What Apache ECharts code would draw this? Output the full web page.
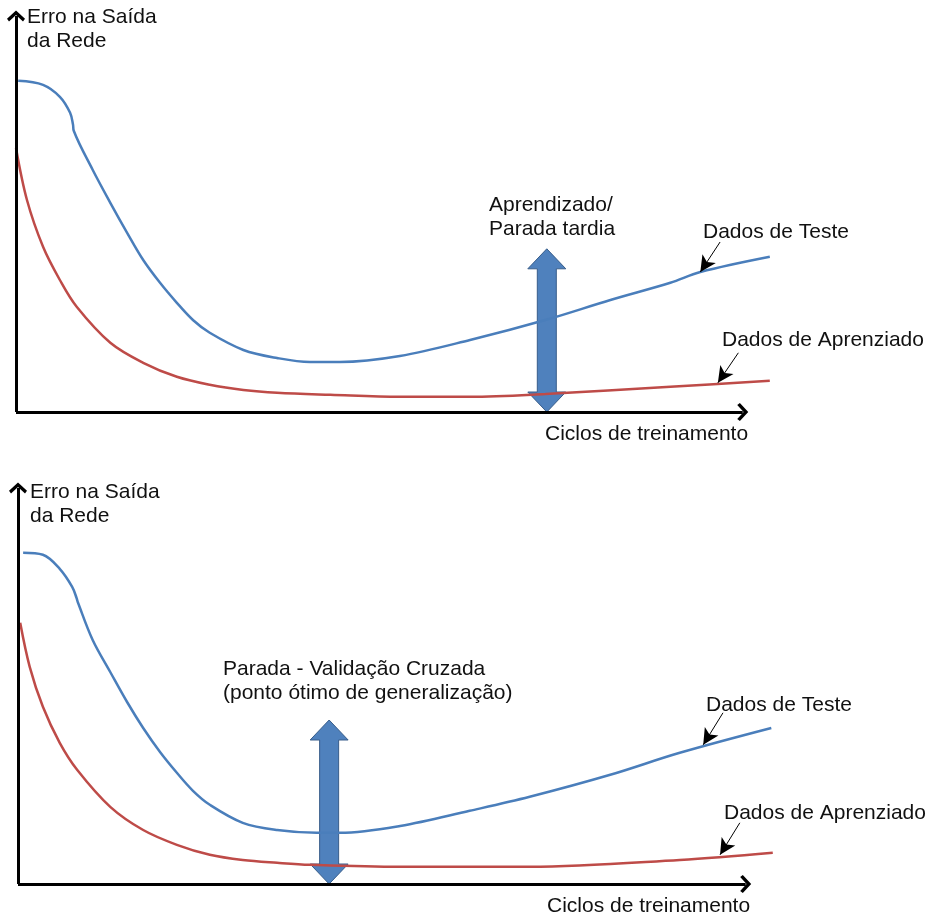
<!DOCTYPE html>
<html>
<head>
<meta charset="utf-8">
<script src="https://cdn.jsdelivr.net/npm/echarts@6/dist/echarts.min.js"></script>
<style>
  html, body { margin: 0; padding: 0; background: #fff; }
  #chart { width: 930px; height: 920px; }
</style>
</head>
<body>
<div id="chart"></div>
<script>
// curves: [ciclos, erro], both panels on a 0..100 scale
const topTest = [
  [0.3, 82.8], [3.7, 81.8], [6.0, 78.8], [7.4, 74.8], [7.8, 71.8], [7.9, 70.3],
  [10.5, 60.5], [12.9, 52.3], [15.2, 44.8], [17.4, 38.0], [19.7, 32.3], [22.0, 27.3],
  [24.2, 23.0], [26.5, 19.8], [31.1, 15.5], [35.7, 13.5], [40.2, 12.5], [44.3, 12.5],
  [52.5, 14.0], [62.1, 18.0], [72.4, 23.0], [81.3, 28.0], [89.5, 32.3], [93.6, 35.0],
  [103.1, 38.8]
];
const topTrain = [
  [0, 66.0], [1.5, 53.0], [3.7, 41.3], [6.0, 33.0], [8.3, 26.3], [12.9, 17.3],
  [17.4, 12.3], [22.0, 8.8], [26.5, 6.8], [31.1, 5.5], [35.7, 4.8], [43.0, 4.3],
  [52.5, 3.8], [62.1, 3.8], [72.4, 4.5], [89.5, 6.3], [103.1, 7.8]
];
const bottomTest = [
  [0.7, 82.8], [3.4, 82.3], [5.7, 78.8], [7.4, 74.3], [8.0, 71.5], [8.2, 70.3],
  [10.2, 61.0], [12.6, 53.0], [14.9, 45.5], [17.1, 39.0], [19.4, 33.0], [21.7, 27.8],
  [23.9, 23.3], [26.2, 19.8], [30.7, 15.3], [35.4, 13.5], [40.8, 12.8], [44.0, 12.8],
  [52.2, 14.5], [61.7, 18.3], [69.9, 21.8], [80.9, 27.3], [90.4, 32.8], [102.9, 39.0]
];
const bottomTrain = [
  [0.3, 65.3], [1.6, 54.3], [3.4, 44.3], [5.7, 35.3], [8.1, 28.5], [12.6, 19.3],
  [17.1, 13.5], [21.7, 9.8], [26.2, 7.3], [30.7, 6.0], [35.4, 5.3], [39.9, 4.8],
  [52.2, 4.3], [69.9, 4.3], [90.4, 6.0], [103.1, 7.8]
];
// stop markers: [ciclo, erro base, erro topo]
const topStop = [72.6, 0, 40.8];
const bottomStop = [42.5, 0, 41.0];
// pointer arrows: [from, to]
const topTestPointer = [[96.3, 42.5], [93.6, 35.0]];
const topTrainPointer = [[98.8, 14.8], [96.0, 7.3]];
const bottomTestPointer = [[96.3, 42.8], [93.6, 34.8]];
const bottomTrainPointer = [[98.6, 15.3], [95.9, 7.3]];
const axisEnd = 99.4;
const axisTop = 99;

const yTitle = "Erro na Saída\nda Rede";
const xTitle = "Ciclos de treinamento";
const testName = "Dados de Teste";
const trainName = "Dados de Aprenziado";
const topNote = "Aprendizado/\nParada tardia";
const bottomNote = "Parada - Validação Cruzada\n(ponto ótimo de generalização)";

const BLUE = "#4A7EBB", RED = "#BE4B48";
const FONT = "'Liberation Sans', Arial, sans-serif";
const chevron = "path://M9,0 L18,7.6 L16,10 L9,4.2 L2,10 L0,7.6 Z";

function axisLines() {
  return {
    silent: true,
    symbol: ["none", chevron],
    symbolSize: [18, 11],
    label: { show: false },
    lineStyle: { color: "#000", width: 3, type: "solid" },
    emphasis: { disabled: true },
    data: [
      [{ coord: [0, 0] }, { coord: [axisEnd, 0] }],
      [{ coord: [0, 0] }, { coord: [0, axisTop] }]
    ]
  };
}
function pointer(p) {
  return {
    silent: true,
    symbol: ["none", "arrow"],
    symbolSize: [12, 16],
    label: { show: false },
    lineStyle: { color: "#000", width: 1, type: "solid" },
    itemStyle: { color: "#000" },
    emphasis: { disabled: true },
    data: [[{ coord: p[0] }, { coord: p[1] }]]
  };
}
function doubleArrow(params, api) {
  const b = api.coord([api.value(0), api.value(1)]);
  const t = api.coord([api.value(0), api.value(2)]);
  const cx = b[0], hw = 19, sw = 9.5, hh = 20;
  return {
    type: "polygon",
    shape: {
      points: [
        [cx, t[1]], [cx + hw, t[1] + hh], [cx + sw, t[1] + hh],
        [cx + sw, b[1] - hh], [cx + hw, b[1] - hh], [cx, b[1]],
        [cx - hw, b[1] - hh], [cx - sw, b[1] - hh], [cx - sw, t[1] + hh],
        [cx - hw, t[1] + hh]
      ]
    },
    style: { fill: "#4F81BD", stroke: "#385D8A", lineWidth: 1 }
  };
}
function lineSeries(idx, data, color, marks) {
  return {
    type: "line", xAxisIndex: idx, yAxisIndex: idx, data: data,
    smooth: 0.35, showSymbol: false, clip: false,
    lineStyle: { color: color, width: 2.5 }, silent: true,
    markLine: marks
  };
}
function txt(x, y, s) {
  return {
    type: "text", left: x, top: y, silent: true,
    style: { text: s, font: "21px " + FONT, fill: "#111", lineHeight: 24 }
  };
}
const hiddenX = { type: "value", min: 0, max: 106, show: false };
const hiddenY = { type: "value", min: 0, max: 100, show: false };

const chart = echarts.init(document.getElementById("chart"));
chart.setOption({
  animation: false,
  backgroundColor: "#fff",
  grid: [
    { left: 16, top: 12, width: 775, height: 400 },
    { left: 18, top: 484, width: 776, height: 400 }
  ],
  xAxis: [Object.assign({ gridIndex: 0 }, hiddenX), Object.assign({ gridIndex: 1 }, hiddenX)],
  yAxis: [Object.assign({ gridIndex: 0 }, hiddenY), Object.assign({ gridIndex: 1 }, hiddenY)],
  series: [
    lineSeries(0, topTrain, RED, axisLines()),
    lineSeries(0, topTest, BLUE, pointer(topTestPointer)),
    lineSeries(0, [], RED, pointer(topTrainPointer)),
    lineSeries(1, bottomTrain, RED, axisLines()),
    lineSeries(1, bottomTest, BLUE, pointer(bottomTestPointer)),
    lineSeries(1, [], RED, pointer(bottomTrainPointer)),
    { type: "custom", xAxisIndex: 0, yAxisIndex: 0, data: [topStop], renderItem: doubleArrow, silent: true, clip: false },
    { type: "custom", xAxisIndex: 1, yAxisIndex: 1, data: [bottomStop], renderItem: doubleArrow, silent: true, clip: false }
  ],
  graphic: [
    txt(27, 5, yTitle),
    txt(489, 193, topNote),
    txt(703, 220, testName),
    txt(722, 328, trainName),
    txt(545, 422, xTitle),
    txt(30, 480, yTitle),
    txt(223, 657, bottomNote),
    txt(706, 693, testName),
    txt(724, 801, trainName),
    txt(547, 894, xTitle)
  ]
});
</script>
</body>
</html>
